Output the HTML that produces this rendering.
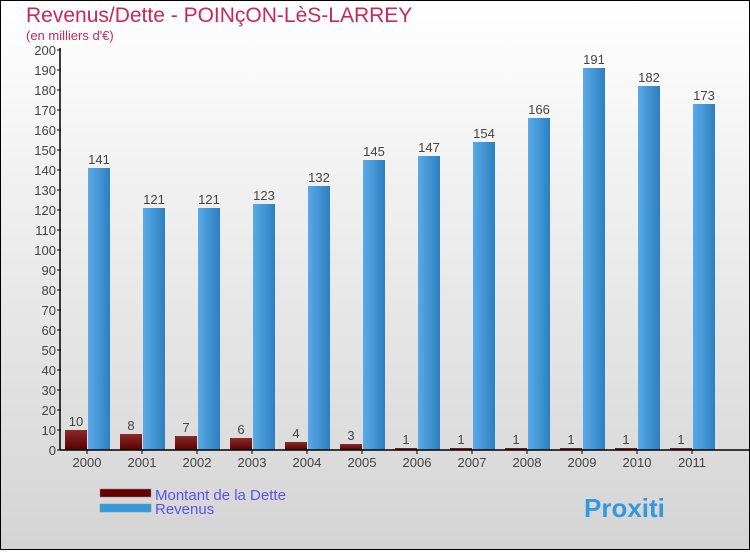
<!DOCTYPE html>
<html><head><meta charset="utf-8"><style>
body{margin:0}
#c{width:748px;height:548px;border:1px solid #000;background:linear-gradient(#fff,#d4d4d4);position:relative;font-family:"Liberation Sans",sans-serif}
</style></head><body>
<div id="c">
<svg id="s" width="748" height="548"></svg>
</div>
<script>
const years=["2000","2001","2002","2003","2004","2005","2006","2007","2008","2009","2010","2011"];
const debt=[10,8,7,6,4,3,1,1,1,1,1,1];
const revenue=[141,121,121,123,132,145,147,154,166,191,182,173];
const yTicks=[0,10,20,30,40,50,60,70,80,90,100,110,120,130,140,150,160,170,180,190,200];
const NS="http://www.w3.org/2000/svg";
const s=document.getElementById('s');
const ox=-1,oy=-1;
function y(v){return 450+oy-v*2;}
function gx(i){return 65+ox+i*55;}
function mk(t,a,txt){const e=document.createElementNS(NS,t);for(const k in a)e.setAttribute(k,a[k]);if(txt!=null)e.textContent=txt;s.appendChild(e);return e;}
const defs=mk('defs',{});
defs.innerHTML='<linearGradient id="gb" x1="0" x2="1"><stop offset="0" stop-color="#5aaae8"/><stop offset="1" stop-color="#2e7fc0"/></linearGradient><linearGradient id="gd" x1="0" y1="0" x2="0" y2="1"><stop offset="0" stop-color="#8a2a2a"/><stop offset="1" stop-color="#5a0000"/></linearGradient>';
let t=mk('text',{x:26+ox,y:22+oy,'font-size':21,fill:'#c8285a'},'Revenus/Dette - POINçON-LèS-LARREY');

t=mk('text',{x:26+ox,y:40+oy,'font-size':13,fill:'#c8285a'},'(en milliers d\'€)');

yTicks.forEach(v=>{
 const l=mk('line',{x1:57+ox,x2:61+ox,y1:y(v),y2:y(v),stroke:'#000'});
 
 const tt=mk('text',{x:56+ox,y:y(v)+5,'font-size':13,'text-anchor':'end',fill:'#444'},v);
 
});
years.forEach((yr,i)=>{
 const x0=gx(i);
 const d=mk('rect',{x:x0,y:y(debt[i]),width:22,height:debt[i]*2,fill:'url(#gd)'});
 
 const dl=mk('text',{x:x0+11,y:y(debt[i])-4,'font-size':13,'text-anchor':'middle',fill:'#444'},debt[i]);
 
 const r=mk('rect',{x:x0+23,y:y(revenue[i]),width:22,height:revenue[i]*2,fill:'url(#gb)'});
 
 const rl=mk('text',{x:x0+34,y:y(revenue[i])-4,'font-size':13,'text-anchor':'middle',fill:'#444'},revenue[i]);
 
 const tk=mk('line',{x1:x0+22,x2:x0+22,y1:y(0),y2:y(0)+4,stroke:'#000'});
 
 const xl=mk('text',{x:x0+22,y:y(0)+17,'font-size':13,'text-anchor':'middle',fill:'#444'},yr);
 
});
let ax=mk('line',{x1:60+ox,x2:60+ox,y1:y(200)-2,y2:y(0),stroke:'#000','stroke-width':1.5});

ax=mk('line',{x1:60+ox,x2:748,y1:y(0),y2:y(0),stroke:'#000','stroke-width':1.5});

let lg=mk('rect',{x:100+ox,y:489+oy,width:51,height:8,fill:'#660000',stroke:'#888','stroke-width':0.5});

lg=mk('text',{x:155+ox,y:500+oy,'font-size':15,fill:'#5555ee'},'Montant de la Dette');

lg=mk('rect',{x:100+ox,y:504+oy,width:51,height:8,fill:'#3399dd',stroke:'#888','stroke-width':0.5});

lg=mk('text',{x:155+ox,y:514+oy,'font-size':15,fill:'#5555ee'},'Revenus');

lg=mk('text',{x:583,y:516,'font-size':26,'font-weight':'bold',fill:'#3399dd'},'Proxiti');

</script>
</body></html>
